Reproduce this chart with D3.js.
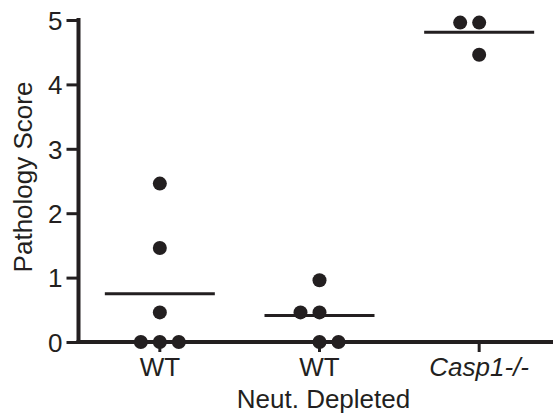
<!DOCTYPE html>
<html>
<head>
<meta charset="utf-8">
<script src="https://cdn.jsdelivr.net/npm/d3@7"></script>
<style>
  body { margin: 0; background: #fff; }
  svg { display: block; font-family: "Liberation Sans", Arial, Helvetica, sans-serif; }
</style>
</head>
<body>
<div id="chart"></div>
<script>
// groups along the x axis
const groups = ['WT', 'WT', 'Casp1-/-']
const groupItalic = [false, false, true]

// individual pathology scores per group
const scoresWT = [2.46, 1.46, 0.46, 0, 0, 0]
const scoresWTDepleted = [0.96, 0.46, 0.46, 0, 0]
const scoresCasp1 = [4.96, 4.96, 4.46]

// column slot of each dot (Prism-style side-by-side placement of tied values)
const slotsWT = [0, 0, 0, -1, 0, 1]
const slotsWTDepleted = [0, -1, 0, 0, 1]
const slotsCasp1 = [-1, 0, 0]

// group means (horizontal bars)
const means = [0.75, 0.41, 4.81]

const yTicks = [0, 1, 2, 3, 4, 5]
const yTitle = 'Pathology Score'
const xTitle = 'Neut. Depleted'

const width = 553
const height = 414
const margin = {top: 20, right: 0, bottom: 72, left: 78.5}
const fontSize = 26

const x = d3.scaleBand()
  .domain(d3.range(groups.length))
  .range([80, 559])
const y = d3.scaleLinear()
  .domain([0, 5])
  .range([height - margin.bottom, margin.top])

const slotWidth = 19
const cx = (i, slot) => x(i) + x.bandwidth() / 2 + slot * slotWidth

const points = [
  ...scoresWT.map((v, k) => ({g: 0, v, slot: slotsWT[k]})),
  ...scoresWTDepleted.map((v, k) => ({g: 1, v, slot: slotsWTDepleted[k]})),
  ...scoresCasp1.map((v, k) => ({g: 2, v, slot: slotsCasp1[k]})),
]

const svg = d3.select('#chart').append('svg')
  .attr('width', width)
  .attr('height', height)

const ink = '#231f20'

// y axis
svg.append('g')
  .attr('transform', `translate(${margin.left},0)`)
  .call(d3.axisLeft(y).tickValues(yTicks).tickFormat(d3.format('d')).tickSize(12).tickSizeOuter(0).tickPadding(4))
  .call(g => g.select('.domain').attr('stroke', ink).attr('stroke-width', 4).attr('d', `M0,${y(5) - 2}V${y(0)}`))
  .call(g => g.selectAll('.tick line').attr('stroke', ink).attr('stroke-width', 3))
  .call(g => g.selectAll('.tick text').attr('fill', ink).attr('font-size', fontSize).attr('font-family', null).attr('dy', '0.36em'))

// x axis
svg.append('g')
  .attr('transform', `translate(0,${y(0)})`)
  .call(d3.axisBottom(x).tickSize(10).tickSizeOuter(0).tickPadding(6).tickFormat(i => groups[i]))
  .call(g => g.select('.domain').attr('stroke', ink).attr('stroke-width', 4).attr('d', `M${margin.left - 2},0H${width}`))
  .call(g => g.selectAll('.tick line').attr('stroke', ink).attr('stroke-width', 3))
  .call(g => g.selectAll('.tick text').attr('fill', ink).attr('font-size', fontSize).attr('font-family', null)
    .attr('font-style', i => groupItalic[i] ? 'italic' : 'normal'))

// axis titles
svg.append('text')
  .attr('transform', `translate(32,${(y(0) + y(5)) / 2 - 4}) rotate(-90)`)
  .attr('text-anchor', 'middle')
  .attr('font-size', fontSize)
  .attr('fill', ink)
  .text(yTitle)

svg.append('text')
  .attr('x', x(1) + x.bandwidth() / 2 + 4)
  .attr('y', 408)
  .attr('text-anchor', 'middle')
  .attr('font-size', fontSize)
  .attr('fill', ink)
  .text(xTitle)

// mean bars
svg.append('g')
  .selectAll('line')
  .data(means)
  .join('line')
  .attr('x1', (d, i) => x(i) + x.bandwidth() / 2 - 55)
  .attr('x2', (d, i) => x(i) + x.bandwidth() / 2 + 55)
  .attr('y1', d => y(d))
  .attr('y2', d => y(d))
  .attr('stroke', ink)
  .attr('stroke-width', 3)

// dots
svg.append('g')
  .selectAll('circle')
  .data(points)
  .join('circle')
  .attr('cx', d => cx(d.g, d.slot))
  .attr('cy', d => y(d.v))
  .attr('r', 7)
  .attr('fill', ink)
</script>
</body>
</html>
